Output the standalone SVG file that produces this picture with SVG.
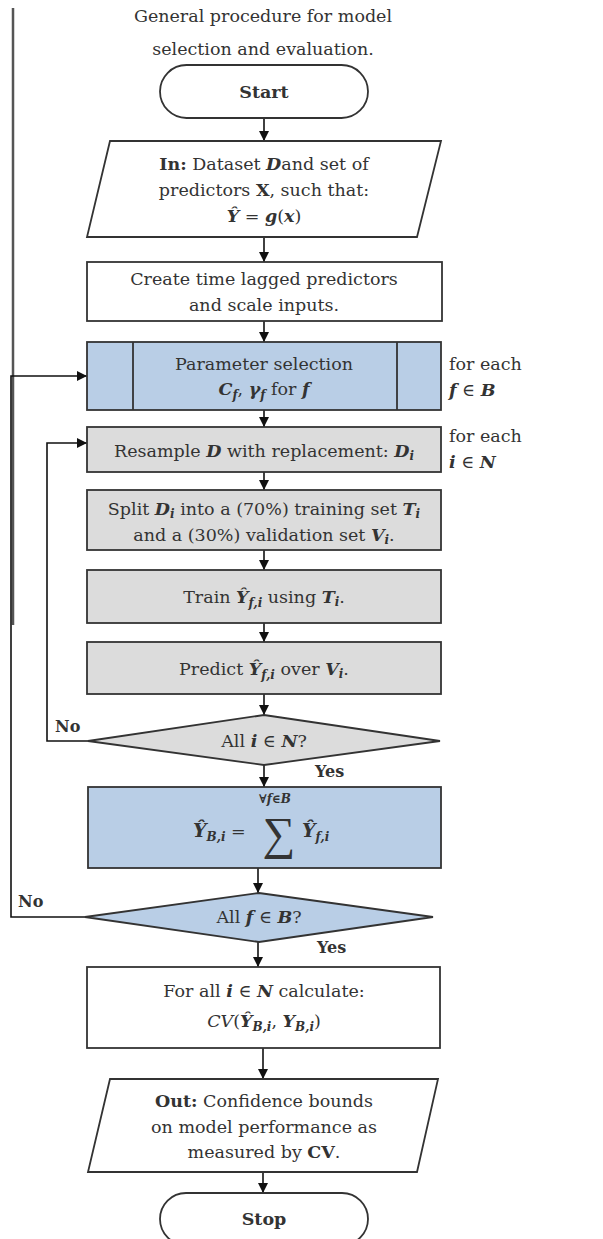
<svg xmlns="http://www.w3.org/2000/svg" width="603" height="1239" viewBox="0 0 603 1239">
<style>
  text { font-family: "DejaVu Serif", "Liberation Serif", serif; font-size: 17.5px; fill: #333; }
  .c { text-anchor: middle; }
  .b { font-weight: bold; }
  .m { font-style: italic; font-weight: bold; }
  .s { font-size: 12px; font-style: italic; font-weight: bold; }
  .box { stroke: #333; stroke-width: 1.8; }
  .white { fill: #ffffff; }
  .blue { fill: #b9cee6; }
  .gray { fill: #dcdcdc; }
  .conn { fill: none; stroke: #111; stroke-width: 1.6; }
  .lbl { font-weight: bold; font-size: 16px; }
  .big { font-size: 19px; }
  .sig { font-size: 46px; font-family: "Liberation Serif", "DejaVu Serif", serif; }
  .tiny { font-size: 12px; font-style: italic; font-weight: bold; }
</style>
<defs>
  <marker id="arr" markerWidth="10" markerHeight="10" refX="10" refY="5" orient="auto" markerUnits="userSpaceOnUse">
    <path d="M0,0 L10,5 L0,10 z" fill="#111"/>
  </marker>
</defs>
<rect x="0" y="0" width="603" height="1239" fill="#ffffff"/>
<line x1="13" y1="8" x2="13" y2="625" stroke="#555" stroke-width="2.5"/>

<g id="title">
  <text class="c" x="263" y="22">General procedure for model</text>
  <text class="c" x="263" y="55">selection and evaluation.</text>
</g>

<g id="connectors">
  <line class="conn" x1="264" y1="118" x2="264" y2="141" marker-end="url(#arr)"/>
  <line class="conn" x1="264" y1="237" x2="264" y2="262" marker-end="url(#arr)"/>
  <line class="conn" x1="264" y1="321" x2="264" y2="342" marker-end="url(#arr)"/>
  <line class="conn" x1="264" y1="410" x2="264" y2="427" marker-end="url(#arr)"/>
  <line class="conn" x1="264" y1="472" x2="264" y2="490" marker-end="url(#arr)"/>
  <line class="conn" x1="264" y1="550" x2="264" y2="570" marker-end="url(#arr)"/>
  <line class="conn" x1="264" y1="623" x2="264" y2="642" marker-end="url(#arr)"/>
  <line class="conn" x1="264" y1="694" x2="264" y2="715" marker-end="url(#arr)"/>
  <line class="conn" x1="264" y1="765" x2="264" y2="787" marker-end="url(#arr)"/>
  <line class="conn" x1="258" y1="868" x2="258" y2="893" marker-end="url(#arr)"/>
  <line class="conn" x1="258" y1="942" x2="258" y2="967" marker-end="url(#arr)"/>
  <line class="conn" x1="263" y1="1048" x2="263" y2="1079" marker-end="url(#arr)"/>
  <line class="conn" x1="263" y1="1172" x2="263" y2="1193" marker-end="url(#arr)"/>
  <path class="conn" d="M88,741 H47 V443 H87" marker-end="url(#arr)"/>
  <path class="conn" d="M85,917 H11 V376 H87" marker-end="url(#arr)"/>
  <text class="lbl" x="55" y="732">No</text>
  <text class="lbl" x="315" y="777">Yes</text>
  <text class="lbl" x="18" y="907">No</text>
  <text class="lbl" x="317" y="953">Yes</text>
</g>

<g id="start">
  <rect class="box white" x="160" y="65" width="208" height="53" rx="26.5"/>
  <text class="c b" x="264" y="98">Start</text>
</g>

<g id="input">
  <polygon class="box white" points="110,141 441,141 417,237 87,237"/>
  <text class="c" x="264" y="170"><tspan class="b">In:</tspan> Dataset <tspan class="m">D</tspan>and set of</text>
  <text class="c" x="264" y="196">predictors <tspan class="b">X</tspan>, such that:</text>
  <text class="c" x="264" y="222"><tspan class="m">Ŷ</tspan> = <tspan class="m">g</tspan>(<tspan class="m">x</tspan>)</text>
</g>

<g id="create">
  <rect class="box white" x="87" y="262" width="355" height="59"/>
  <text class="c" x="264" y="285">Create time lagged predictors</text>
  <text class="c" x="264" y="311">and scale inputs.</text>
</g>

<g id="param">
  <rect class="box blue" x="87" y="342" width="354" height="68"/>
  <line class="box" x1="133" y1="342" x2="133" y2="410"/>
  <line class="box" x1="397" y1="342" x2="397" y2="410"/>
  <text class="c" x="264" y="370">Parameter selection</text>
  <text class="c" x="264" y="395"><tspan class="m">C</tspan><tspan class="s" dy="4">f</tspan><tspan dy="-4">, </tspan><tspan class="m">γ</tspan><tspan class="s" dy="4">f</tspan><tspan dy="-4"> for </tspan><tspan class="m">f</tspan></text>
</g>
<g id="label-f">
  <text x="449" y="370">for each</text>
  <text x="449" y="396"><tspan class="m">f</tspan> ∈ <tspan class="m">B</tspan></text>
</g>

<g id="resample">
  <rect class="box gray" x="87" y="427" width="354" height="45"/>
  <text class="c" x="264" y="457">Resample <tspan class="m">D</tspan> with replacement: <tspan class="m">D</tspan><tspan class="s" dy="3">i</tspan></text>
</g>
<g id="label-i">
  <text x="449" y="442">for each</text>
  <text x="449" y="468"><tspan class="m">i</tspan> ∈ <tspan class="m">N</tspan></text>
</g>

<g id="split">
  <rect class="box gray" x="87" y="490" width="354" height="60"/>
  <text class="c" x="264" y="515">Split <tspan class="m">D</tspan><tspan class="s" dy="3">i</tspan><tspan dy="-3"> into a (70%) training set </tspan><tspan class="m">T</tspan><tspan class="s" dy="3">i</tspan></text>
  <text class="c" x="264" y="541">and a (30%) validation set <tspan class="m">V</tspan><tspan class="s" dy="3">i</tspan><tspan dy="-3">.</tspan></text>
</g>

<g id="train">
  <rect class="box gray" x="87" y="570" width="354" height="53"/>
  <text class="c" x="264" y="603">Train <tspan class="m">Ŷ</tspan><tspan class="s" dy="4">f,i</tspan><tspan dy="-4"> using </tspan><tspan class="m">T</tspan><tspan class="s" dy="3">i</tspan><tspan dy="-3">.</tspan></text>
</g>

<g id="predict">
  <rect class="box gray" x="87" y="642" width="354" height="52"/>
  <text class="c" x="264" y="675">Predict <tspan class="m">Ŷ</tspan><tspan class="s" dy="4">f,i</tspan><tspan dy="-4"> over </tspan><tspan class="m">V</tspan><tspan class="s" dy="3">i</tspan><tspan dy="-3">.</tspan></text>
</g>

<g id="decision-i">
  <polygon class="box gray" points="264,715 440,741 264,765 88,741"/>
  <text class="c" x="264" y="747">All <tspan class="m">i</tspan> ∈ <tspan class="m">N</tspan>?</text>
</g>

<g id="sum">
  <rect class="box blue" x="88" y="787" width="353" height="81"/>
  <text x="193" y="837"><tspan class="m big">Ŷ</tspan><tspan class="s" dy="4">B,i</tspan><tspan dy="-4"> =</tspan></text>
  <text class="c tiny" x="275" y="803">∀f∈B</text>
  <text class="c sig" x="279" y="849">∑</text>
  <text x="302" y="837"><tspan class="m big">Ŷ</tspan><tspan class="s" dy="4">f,i</tspan></text>
</g>

<g id="decision-f">
  <polygon class="box blue" points="259,893 433,917 259,942 85,917"/>
  <text class="c" x="259" y="923">All <tspan class="m">f</tspan> ∈ <tspan class="m">B</tspan>?</text>
</g>

<g id="cv">
  <rect class="box white" x="87" y="967" width="353" height="81"/>
  <text class="c" x="264" y="997">For all <tspan class="m">i</tspan> ∈ <tspan class="m">N</tspan> calculate:</text>
  <text class="c" x="264" y="1027"><tspan font-style="italic">CV</tspan>(<tspan class="m">Ŷ</tspan><tspan class="s" dy="4">B,i</tspan><tspan dy="-4">, </tspan><tspan class="m">Y</tspan><tspan class="s" dy="4">B,i</tspan><tspan dy="-4">)</tspan></text>
</g>

<g id="output">
  <polygon class="box white" points="110,1079 438,1079 417,1172 88,1172"/>
  <text class="c" x="264" y="1107"><tspan class="b">Out:</tspan> Confidence bounds</text>
  <text class="c" x="264" y="1133">on model performance as</text>
  <text class="c" x="264" y="1158">measured by <tspan class="b">CV</tspan>.</text>
</g>

<g id="stop">
  <rect class="box white" x="160" y="1193" width="208" height="52" rx="26"/>
  <text class="c b" x="264" y="1225">Stop</text>
</g>
</svg>
